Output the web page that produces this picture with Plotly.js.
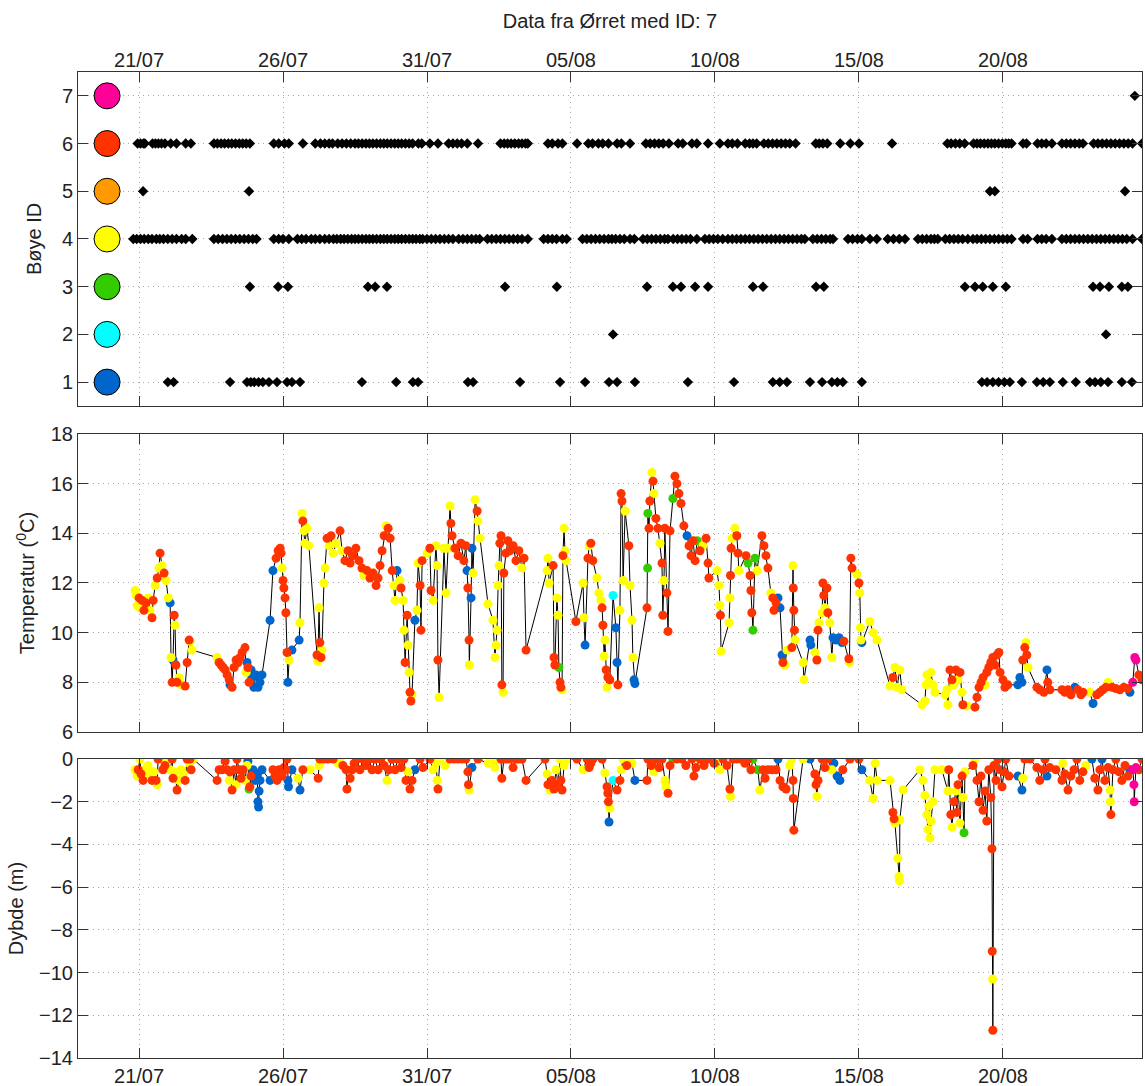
<!DOCTYPE html>
<html><head><meta charset="utf-8">
<script src="https://cdn.plot.ly/plotly-3.0.1.min.js"></script>
<style>body{margin:0;background:#fff}#chart{width:1145px;height:1086px}</style>
</head><body><div id="chart"></div>
<script>
// ---------- data (days after 21/07) ----------
const startDate = '2012-07-21';
const buoyIds = [1, 2, 3, 4, 5, 6, 7];

const det1 = [1.0,1.2,3.16,3.75,3.88,4.0,4.15,4.3,4.51,4.79,5.14,5.31,5.59,7.74,8.93,9.51,9.69,11.42,11.6,13.23,14.62,15.49,16.32,16.6,17.22,19.06,20.66,22.01,22.25,22.5,23.3,23.72,24.06,24.25,24.44,25.1,29.27,29.45,29.65,29.85,30.05,30.24,30.66,31.18,31.4,31.63,32.08,32.53,33.02,33.2,33.4,33.65,34.13,34.48];
const det2 = [16.46,33.58];
const det3 = [3.85,4.83,5.17,7.95,8.2,8.61,12.71,14.51,17.64,18.54,18.82,19.31,19.76,21.32,21.67,23.51,23.78,28.68,29.03,29.3,29.65,30.1,33.13,33.37,33.68,34.13,34.34];
const det4 = [-0.2,-0.08,0.05,0.18,0.32,0.45,0.6,0.72,0.85,1.0,1.15,1.3,1.48,1.62,1.85,
  2.6,2.75,2.9,3.05,3.2,3.35,3.5,3.65,3.8,3.95,4.08,4.68,4.85,5.0,5.2,5.5,5.65,5.8,5.98,
  6.12,6.28,6.45,6.6,6.75,6.87,7.0,7.12,7.25,7.38,7.5,7.62,7.75,7.88,8.0,8.12,8.25,8.38,8.5,8.62,8.75,8.88,9.0,9.12,9.25,9.38,9.5,9.62,9.75,9.85,
  10.0,10.15,10.3,10.45,10.6,10.75,10.9,11.1,11.25,11.4,11.55,11.7,11.83,12.1,12.25,12.4,12.55,12.7,12.85,13.0,13.15,13.3,13.5,
  14.05,14.2,14.35,14.5,14.7,14.85,15.4,15.55,15.7,15.85,16.0,16.15,16.3,16.42,16.55,16.7,16.85,17.05,17.2,
  17.5,17.65,17.8,17.95,18.1,18.25,18.37,18.55,18.7,18.85,19.0,19.15,19.37,19.65,19.8,19.95,20.1,20.27,
  20.45,20.6,20.75,20.9,21.05,21.2,21.35,21.5,21.65,21.8,21.95,22.1,22.25,22.4,22.55,22.7,22.85,23.0,23.12,
  23.4,23.55,23.7,23.85,24.0,24.1,24.62,24.78,24.95,25.1,25.38,25.62,26.0,26.2,26.4,26.6,
  27.05,27.2,27.35,27.5,27.62,27.74,28.0,28.15,28.3,28.45,28.6,28.78,28.96,29.1,29.25,29.4,29.55,29.7,29.85,30.0,30.15,30.3,
  30.7,30.86,31.2,31.35,31.5,31.7,32.05,32.2,32.35,32.5,32.65,32.8,32.95,33.1,33.25,33.4,33.55,33.7,33.85,34.0,34.15,34.3,34.5,34.83];
const det5 = [0.14,3.82,29.55,29.72,34.24];
const det6 = [-0.05,0.05,0.15,0.2,0.47,0.57,0.67,0.78,0.9,1.1,1.3,1.62,1.8,
  2.6,2.72,2.85,2.97,3.1,3.22,3.35,3.48,3.6,3.72,3.85,4.68,4.85,5.05,5.2,5.69,
  6.12,6.3,6.45,6.6,6.72,6.9,7.05,7.2,7.35,7.5,7.62,7.75,7.88,8.0,8.12,8.25,8.38,8.5,8.62,8.75,8.88,9.0,9.12,9.25,9.38,9.5,
  9.7,9.82,10.1,10.38,10.75,10.9,11.05,11.2,11.4,11.77,12.55,12.68,12.8,12.92,13.05,13.18,13.3,13.42,13.5,
  14.2,14.35,14.55,14.7,15.21,15.6,15.75,15.95,16.1,16.3,16.6,16.75,17.05,17.6,17.75,17.9,18.05,18.2,18.4,
  18.72,18.88,19.2,19.37,19.76,20.17,20.45,20.6,20.78,21.05,21.2,21.32,21.45,
  21.7,21.85,22.0,22.15,22.3,22.45,22.6,22.8,23.5,23.62,23.75,23.9,24.35,24.7,25.0,26.15,
  28.07,28.2,28.35,28.5,28.67,28.98,29.1,29.22,29.35,29.48,29.6,29.72,29.85,29.98,30.1,30.2,30.3,
  30.7,30.82,31.2,31.35,31.5,31.7,32.05,32.2,32.35,32.5,32.65,32.78,33.15,33.3,33.45,33.6,33.75,33.9,34.05,34.2,34.35,34.5,34.83];
const det7 = [34.58];

const tempDays = [
  -0.14,-0.10,-0.07,0.00,0.03,0.10,0.17,0.24,0.31,0.38, 0.45,0.49,0.56,0.63,0.69,0.73,0.80,0.87,0.94,1.01, 1.08,1.11,1.15,1.18,1.22,1.25,1.28,1.32,1.39,1.46, 1.60,1.67,1.74,1.77,1.84,
  2.71,2.78,2.85,2.92,2.99,3.06,3.13,3.16,3.23,3.30, 3.37,3.44,3.51,3.58,3.68,3.72,3.75,3.78,3.82,3.89, 3.92,3.99,4.06,4.13,4.20,4.27,
  4.55,4.65,4.76,4.83,4.90,4.93,4.97,5.00,5.03,5.07, 5.10,5.14,5.17,5.21,5.31,5.56,5.59,5.66,5.69,5.73, 5.76,5.83,5.90,
  6.18,6.21,6.25,6.28,6.32,6.35,6.42,6.46,6.53,6.60, 6.67,6.74,6.84,6.98,7.05,7.15,7.26,7.33,7.43,7.53, 7.64,7.74,7.81,7.92,8.02,8.13,8.23,8.30,8.37,8.44, 8.51,8.58,8.65,8.72,8.79,8.85,8.89,8.96,
  9.06,9.10,9.17,9.20,9.24,9.31,9.34,9.38,9.41,9.44, 9.48,9.58,9.65,9.69,9.76,9.79,9.83,10.00,10.10,10.14, 10.21,10.31,10.35,10.38,10.42,10.59,10.66,10.73,10.80,10.83, 10.87,10.97,11.08,11.18,11.28,11.35,11.39,11.42,11.46,11.47, 11.53,11.56,11.60,11.67,11.74,11.77,11.84,
  12.12,12.29,12.36,12.40,12.43,12.47,12.50,12.53,12.57,12.60, 12.64,12.67,12.74,12.81,12.88,12.99,13.09,13.19,13.30,13.37, 13.44,14.17,14.20,14.24,14.38,14.41,14.44,14.51,14.55,14.58, 14.62,14.65,14.69,14.72,14.76,14.79,14.83,
  15.17,15.42,15.45,15.49,15.59,15.63,15.69,15.76,15.90,15.97, 16.04,16.08,16.11,16.15,16.18,16.22,16.25,16.28,16.35,16.46, 16.56,16.60,16.63,16.70,16.74,16.77,16.81,16.88,17.01,17.05, 17.12,17.15,17.19,17.22,
  17.64,17.66,17.67,17.71,17.74,17.81,17.85,17.88,17.95,18.02, 18.09,18.16,18.19,18.23,18.26,18.33,18.37,18.44,18.54,18.61, 18.68,18.75,18.82,18.92,19.03,19.10,19.17,19.24,19.31,19.38, 19.48,19.58,19.69,19.76,19.79,20.07,20.14,20.17,20.19,20.21,
  20.49,20.52,20.54,20.56,20.59,20.69,20.76,20.80,20.83,21.08, 21.15,21.22,21.25,21.28,21.32,21.39,21.46,21.63,21.70,21.77, 21.84,21.94,22.01,22.05,22.12,22.19,22.26,22.33,22.36,22.43, 22.50,22.67,22.71,22.72,22.74,22.76,22.78,23.06,23.09,
  23.30,23.33,23.47,23.54,23.58,23.61,23.72,23.75,23.78,23.82, 23.89,23.92,23.99,24.06,24.10,24.20,24.31,24.41,24.48,24.65, 24.67,24.72,24.76,24.93,25.00,25.03,25.05,25.07,25.10,25.38, 25.49,25.63,
  26.08,26.18,26.25,26.32,26.42,26.49,27.19,27.29,27.33,27.36, 27.43,27.50,27.57,27.64,27.99,28.06,28.09,28.16,28.23,28.30, 28.37,28.44,28.51,28.58,28.61,28.75,29.03,29.10,29.17,29.24, 29.31,29.38,29.44,29.51,29.58,29.65,29.72,29.79,29.86,
  29.90,30.00,30.07,30.17,30.52,30.59,30.66,30.69,30.76,30.80, 30.83,30.87,31.18,31.28,31.42,31.53,31.56,31.63,32.05,32.15, 32.26,32.36,32.50,32.60,32.71,32.78,33.02,33.13,33.26,33.37, 33.47,33.58,33.65,33.79,33.92,34.06,34.20,34.34,34.41,34.51, 34.58,34.62,34.72,34.83];
const tempValues = [
  11.7,11.5,11.1,11.4,11.0,11.3,10.9,11.2,11.4,10.9, 10.6,11.3,11.9,12.2,12.6,13.2,12.7,12.4,12.1,11.4, 11.2,9.0,8.0,8.9,10.7,10.3,8.7,8.0,8.2,7.9, 7.85,8.8,9.7,9.65,9.3,
  9.0,8.8,8.7,8.6,8.5,8.3,8.1,7.9,7.8,8.6, 8.9,8.8,9.0,9.2,9.4,8.4,8.8,8.6,8.0,8.5, 8.2,7.8,8.3,7.8,8.0,8.3,
  10.5,12.5,13.0,13.3,13.4,13.2,12.6,12.1,11.8,11.4, 10.8,9.2,8.0,8.9,9.3,9.7,10.4,14.8,14.5,14.1, 13.6,14.2,13.5,
  9.1,8.85,11.0,9.6,9.0,9.3,12.0,12.6,13.8,13.5, 13.9,13.2,13.6,14.1,13.3,12.9,13.3,12.8,13.1,13.4, 12.9,12.6,12.3,12.5,12.2,12.4,11.9,12.2,12.7,13.3, 13.9,14.3,14.2,13.8,12.5,11.9,11.3,12.5,
  12.1,11.8,11.3,10.1,8.8,10.7,9.5,8.4,7.6,7.25, 7.5,10.5,10.9,12.8,11.9,10.1,12.9,13.2,13.4,11.7, 11.3,13.5,12.7,8.9,7.4,13.4,11.6,13.4,15.1,14.4, 13.9,13.4,13.1,13.6,12.9,13.5,12.5,11.8,9.7,8.7, 11.4,13.4,12.4,15.35,14.9,14.5,13.8,
  11.15,10.5,9.0,9.5,10.1,11.9,12.7,13.6,13.9,7.9, 7.6,12.4,13.2,13.7,13.3,13.5,12.9,13.3,12.6,13.0, 9.3,12.5,13.0,12.0,12.7,9.0,8.7,11.4,10.7,8.6, 8.0,7.8,7.7,13.1,14.2,13.3,12.9,
  10.45,12.0,10.6,9.5,13.0,13.5,13.6,12.9,12.2,11.6, 11.3,11.0,10.3,9.05,9.7,8.5,7.8,8.2,8.1,11.5, 10.2,8.8,7.9,10.9,15.6,15.3,12.1,14.9,13.5,11.9, 10.5,9.0,8.1,7.95,
  11.0,12.6,14.8,14.2,15.3,16.45,16.1,15.6,14.6,14.2, 13.6,12.8,10.7,12.1,14.2,11.6,10.05,14.1,15.4,16.3, 16.0,15.6,15.2,14.3,13.9,13.5,13.1,13.7,12.9,13.7, 13.3,13.5,13.8,12.8,12.2,12.5,11.9,11.1,10.7,9.25,
  10.4,11.4,12.3,13.4,13.8,14.2,13.9,13.2,12.5,13.1, 12.8,12.3,11.7,10.8,10.1,13.0,12.5,13.9,13.5,13.1, 12.6,11.6,11.4,10.9,11.2,11.4,11.0,9.1,8.8,8.7, 9.3,9.4,12.7,11.8,10.9,10.1,9.7,8.8,8.1,
  9.7,9.5,9.2,8.9,10.1,10.4,10.8,12.0,11.5,11.0, 11.8,10.8,10.4,9.0,9.8,9.7,9.8,9.6,9.65,8.95, 8.8,13.0,12.6,12.35,12.0,11.6,10.2,9.7,9.6,10.45, 10.0,9.7,
  7.85,8.2,8.6,7.8,8.5,7.7,7.1,7.25,7.9,8.3, 8.0,8.4,7.9,7.6,7.5,7.7,7.1,8.5,8.1,7.9, 8.5,8.1,8.4,7.6,7.1,7.05,7.0,7.4,7.8,8.0, 8.2,7.9,8.4,8.6,8.8,9.0,8.7,9.1,9.2,
  8.4,8.1,7.8,7.9,7.9,8.2,8.0,8.9,9.4,9.6, 9.1,8.6,7.8,7.7,7.6,8.5,8.0,7.7,7.7,7.6, 7.7,7.5,7.8,7.7,7.5,7.6,7.6,7.15,7.5,7.6, 7.7,7.8,8.0,7.8,7.75,7.7,7.8,7.75,7.6,8.0, 9.0,8.9,8.3,8.1];
const tempBuoys = [
  4,4,4,6,4,6,6,6,4,4, 6,6,4,6,4,6,4,6,4,4, 1,4,6,1,6,4,6,6,4,4, 6,6,6,4,4,
  4,6,6,6,6,6,6,1,6,6, 6,6,6,6,6,4,1,6,6,1, 1,1,1,1,1,1,
  1,1,6,6,6,6,4,6,6,6, 6,6,1,4,1,1,4,4,6,4, 4,4,4,
  6,4,4,6,6,4,4,4,6,4, 6,4,4,6,4,6,6,6,6,6, 6,6,4,6,6,6,6,6,6,6, 6,4,6,6,6,4,4,1,
  4,6,4,4,6,6,4,4,6,6, 4,1,4,4,6,6,6,4,6,6, 4,4,4,6,4,4,4,4,4,6, 6,6,6,6,6,6,1,6,6,4, 1,1,4,4,6,4,4,
  4,4,4,4,4,4,4,6,6,6, 4,6,6,6,6,6,6,6,4,6, 6,4,4,4,6,6,6,4,4,3, 6,6,4,6,4,4,4,
  6,4,4,1,6,4,6,6,4,4, 4,6,6,4,4,6,4,6,6,2, 1,1,6,4,6,6,4,4,6,4, 4,4,1,1,
  6,3,3,6,6,4,6,4,6,6, 4,6,6,4,6,6,6,6,3,6, 6,6,6,6,1,6,6,6,6,3, 6,4,6,6,6,4,4,4,6,4,
  4,4,6,6,4,4,6,6,4,6, 3,6,6,6,3,3,4,6,6,6, 6,4,6,6,6,1,1,1,6,4, 4,6,4,6,6,6,4,4,4,
  1,1,4,6,6,4,4,6,6,4, 6,6,4,4,1,1,1,1,6,6, 4,6,6,4,6,4,4,4,1,4, 4,4,
  4,6,4,4,4,4,4,4,4,4, 4,4,4,4,4,4,4,6,6,4, 6,4,6,4,6,4,6,6,6,6, 6,4,6,6,6,6,6,6,6,
  6,6,6,6,1,1,1,6,6,4, 6,4,6,6,6,1,6,6,6,6, 6,6,1,6,6,6,4,1,6,6, 6,6,4,6,6,6,6,6,1,7, 7,7,6,6];

const depthDays = [
  -0.14,-0.07,-0.03,0.03,0.07,0.14,0.21,0.31,0.38,0.45, 0.52,0.59,0.63,0.66,0.76,0.83,0.90,0.97,1.08,1.15, 1.18,1.25,1.32,1.39,1.46,1.53,1.60,1.67,1.74,1.77, 1.81,1.88,
  2.71,2.78,2.88,2.99,3.06,3.13,3.16,3.23,3.30,3.37, 3.40,3.47,3.54,3.61,3.68,3.75,3.78,3.82,3.85,3.89, 3.96,4.03,4.10,4.13,4.15,4.17,4.20,4.27,
  4.55,4.65,4.72,4.79,4.86,4.97,5.03,5.10,5.14,5.17, 5.19,5.31,5.52,5.59,5.69,5.94,
  6.22,6.25,6.28,6.42,6.56,6.74,6.91,6.98,7.08,7.19, 7.22,7.29,7.33,7.40,7.47,7.57,7.67,7.78,7.88,7.99, 8.09,8.19,8.30,8.40,8.51,8.61,8.68,8.78,8.89,8.99,
  9.10,9.20,9.27,9.34,9.41,9.48,9.58,9.76,9.86,10.10, 10.21,10.31,10.35,10.38,10.45,10.63,10.80,10.94,11.08,11.22, 11.35,11.42,11.44,11.46,11.56,11.77,
  12.12,12.26,12.36,12.47,12.57,12.60,12.67,12.78,12.88,12.99, 13.09,13.19,13.30,13.44,14.10,14.17,14.20,14.27,14.34,14.41, 14.48,14.55,14.62,14.65,14.69,14.76,14.86,
  15.21,15.42,15.56,15.63,15.69,15.76,16.08,16.18,16.25,16.28, 16.30,16.32,16.35,16.46,16.60,16.70,16.74,16.81,16.94,17.05, 17.12,17.22,
  17.64,17.67,17.78,17.88,17.95,18.06,18.16,18.26,18.30,18.37, 18.44,18.54,18.68,18.85,18.99,19.20,19.27,19.34,19.48,19.62, 19.76,19.97,20.10,20.17,20.28,20.42,
  20.52,20.54,20.63,20.76,20.90,21.04,21.15,21.25,21.32,21.49, 21.56,21.67,21.74,21.84,21.98,22.12,22.19,22.26,22.36,22.47, 22.60,22.67,22.71,22.72,22.74,23.06,
  23.30,23.47,23.51,23.54,23.58,23.72,23.82,23.92,24.06,24.13, 24.24,24.34,24.44,24.69,25.00,25.10,25.38,25.49,25.56,25.63,
  26.08,26.18,26.22,26.25,26.35,26.39,26.41,26.42,26.53,27.12, 27.22,27.29,27.36,27.40,27.43,27.47,27.50,27.57,27.64,27.88, 28.09,28.12,28.19,28.23,28.30,28.37,28.40,28.44,28.51,28.58, 28.61,28.65,28.68,28.96,29.03,29.10,29.17,29.24,29.31,29.38, 29.44,29.51,29.58,29.62,29.63,29.64,29.65,29.69,29.76,29.83, 29.90,29.97,30.03,30.10,30.21,
  30.52,30.66,30.69,30.76,30.94,31.18,31.28,31.39,31.46,31.53, 31.63,31.84,32.05,32.08,32.15,32.26,32.36,32.47,32.57,32.67, 32.78,32.88,33.09,33.19,33.30,33.37,33.44,33.54,33.65,33.72, 33.73,33.75,33.82,33.92,34.03,34.13,34.24,34.34,34.41,34.51, 34.55,34.56,34.62,34.72,34.83];
const depthValues = [
  -0.5,-0.8,-0.5,0,-0.7,-1.0,-0.5,-0.3,-0.7,-1.0, -0.6,-1.0,-1.2,0,0,-0.5,-0.3,0,-0.5,0, -0.9,-0.6,-1.45,-1.0,-0.5,-0.7,-1.0,0,-0.2,0, -0.5,0,
  -1.0,-0.5,-0.5,-0.1,-0.5,-1.0,-0.6,-1.45,-0.5,-1.2, 0,-0.5,-0.9,-0.5,-1.0,-0.3,-0.1,-1.4,-1.3,-0.8, -0.5,-1.0,-0.7,-2.0,-2.25,-1.5,-1.0,-0.5,
  -1.0,-0.5,-0.8,-1.0,-0.5,-0.8,-0.4,-0.5,0,-1.0, -1.3,-0.5,-0.9,-1.45,-0.5,-0.5,
  -0.9,-0.3,0,0,0,0,-0.2,0,-0.3,-0.5, -1.4,-0.5,-0.9,-0.5,-0.2,0,-0.5,0,-0.3,0, -0.5,0,-0.5,0,-0.3,-1.0,-0.5,0,-0.5,0,
  -0.4,0,-1.0,-0.6,-1.4,-1.0,-0.5,0,-0.4,0, -0.5,-0.2,-1.0,-1.4,0,-0.3,0,0,0,0, 0,-0.6,-1.2,-1.45,-0.4,0,
  -0.2,0,-0.4,0,0,-0.9,0,0,0,-0.4, 0,0,0,-1.0,0,-0.7,-1.2,-1.45,-1.0,-1.4, -0.5,-1.2,0,-1.0,-1.45,-0.3,0,
  0,-0.5,0,-0.4,-0.2,0,0,-0.65,-1.3,-1.6, -2.0,-2.95,-2.3,-1.0,-1.45,-1.0,-0.5,0,-0.3,0, -0.2,-1.0,
  -1.0,0,-0.3,-0.6,0,-0.4,0,-1.0,-1.3,-1.6, -0.3,0,0,0,-0.3,0,-0.8,-0.4,0,-0.3, 0,-0.2,0,-0.5,0,-0.3,
  -1.4,-1.75,0,0,0,-0.2,0,-0.5,0,-0.5, -1.45,-0.5,-0.9,-0.5,-0.5,-0.5,0,-1.0,-1.3,-1.4, -0.3,0,-1.0,-1.85,-3.33,0,
  0,-0.7,-1.2,-1.75,-1.0,0,-0.4,0,-0.5,-0.2, -0.8,-1.0,-0.5,0,0,-0.5,-1.0,-1.85,-0.2,-1.0,
  -1.0,-2.5,-2.8,-3.0,-4.65,-5.5,-5.7,-2.85,-1.45,-0.5, -1.0,-1.7,-2.6,-3.3,-2.2,-3.7,-2.9,-2.0,-0.5,-0.5, -1.5,-0.5,-2.6,-3.2,-2.0,-1.5,-2.5,-1.2,-3.0,-0.8, -1.8,-3.45,-0.6,-0.3,0,-1.0,-2.0,-0.8,-2.4,-1.5, -2.9,-0.5,-1.8,-4.2,-9.0,-10.3,-12.7,-0.3,-1.0,0, -0.5,-1.3,-0.6,0,-0.8,
  -0.8,-1.45,-0.9,0,0,-0.4,-1.0,-0.5,0,-0.8, -0.4,-0.5,-1.0,-0.2,-0.7,-1.45,-0.8,-0.5,0,-1.0, -0.6,-0.3,0,-0.9,-1.45,-0.5,0,-1.0,-0.4,-1.45, -2.0,-2.6,-0.5,0,-0.6,-1.0,-0.3,-0.8,-0.5,-0.5, -1.2,-2.0,-0.4,-0.5,0];
const depthBuoys = [
  4,4,6,4,6,6,4,4,4,6, 4,6,4,6,4,6,6,4,4,6, 6,4,6,4,4,4,6,6,4,6, 6,4,
  6,6,6,6,6,4,6,6,6,4, 6,6,6,6,4,4,1,3,6,6, 1,1,1,1,1,1,1,1,
  1,6,6,6,6,6,6,6,6,1, 1,1,4,1,6,4,
  6,4,6,6,6,6,4,4,6,6, 6,4,6,6,6,6,6,6,6,6, 6,6,6,6,6,4,6,6,6,6,
  6,6,6,4,6,6,1,6,6,6, 4,4,4,6,4,4,6,6,6,6, 6,6,6,4,1,6,
  4,4,4,4,6,6,6,6,6,6, 6,6,6,6,6,4,6,4,6,6, 4,6,4,6,6,4,4,
  6,4,6,6,6,6,6,4,6,6, 6,1,4,2,6,6,4,4,6,4, 4,1,
  6,6,6,4,6,6,6,4,4,6, 6,3,6,6,6,6,6,6,6,6, 6,6,4,4,6,6,
  6,4,6,6,6,6,6,6,3,3, 4,6,6,6,6,6,1,6,6,6, 4,4,6,6,6,4,
  1,6,6,4,6,6,6,6,4,1, 1,1,6,6,6,1,4,4,4,4,
  4,6,6,4,4,4,4,4,4,4, 4,4,4,4,4,4,4,4,4,4, 4,6,6,4,6,4,6,6,4,6, 4,3,4,6,4,6,6,6,6,6, 6,6,6,6,6,4,6,6,6,6, 6,6,6,6,6,
  1,1,4,6,6,6,6,6,6,1, 6,6,6,4,6,6,6,6,6,6, 6,4,1,6,6,6,1,6,6,4, 4,6,6,6,6,6,6,6,1,7, 7,7,7,6,6];

// ---------- styles ----------
const buoyColors = {1:'#0066CC', 2:'#00FFFF', 3:'#33CC00', 4:'#FFFF00', 5:'#FF9900', 6:'#FF3300', 7:'#FF0099'};
const DAY = 86400000;
const base = Date.parse(startDate + 'T00:00:00Z');
const toX = d => new Date(base + d * DAY).toISOString().slice(0, 19).replace('T', ' ');
const legendDay = -1.11;
const xRange = [toX(-2.12), toX(34.83)];

const detections = {1: det1, 2: det2, 3: det3, 4: det4, 5: det5, 6: det6, 7: det7};
const traces = [];

// top panel: detections per buoy
buoyIds.forEach(id => {
  const arr = detections[id];
  traces.push({type:'scatter', mode:'markers', xaxis:'x3', yaxis:'y3',
    x: arr.map(toX), y: arr.map(() => id),
    marker:{symbol:'diamond', size:8, color:'#000'}, hoverinfo:'skip'});
});
traces.push({type:'scatter', mode:'markers', xaxis:'x3', yaxis:'y3',
  x: buoyIds.map(() => toX(legendDay)), y: buoyIds,
  marker:{size:26, color: buoyIds.map(id => buoyColors[id]), line:{color:'#000', width:1}}});

function seriesTraces(days, vals, buoys, xa, ya) {
  const n = Math.min(days.length, vals.length, buoys.length);
  const out = [];
  out.push({type:'scatter', mode:'lines', xaxis:xa, yaxis:ya,
    x: days.slice(0, n).map(toX), y: vals.slice(0, n),
    line:{color:'#000', width:1}});
  buoyIds.forEach(id => {
    const xs = [], ys = [];
    for (let i = 0; i < n; i++) if (buoys[i] === id) { xs.push(toX(days[i])); ys.push(vals[i]); }
    if (xs.length) out.push({type:'scatter', mode:'markers', xaxis:xa, yaxis:ya, x:xs, y:ys,
      marker:{size:9, color:buoyColors[id]}});
  });
  return out;
}
traces.push(...seriesTraces(tempDays, tempValues, tempBuoys, 'x2', 'y2'));
traces.push(...seriesTraces(depthDays, depthValues, depthBuoys, 'x', 'y'));

const fontFam = 'Liberation Sans, Arial, Helvetica, sans-serif';
const axisCommon = {
  showline:true, linecolor:'#333', linewidth:1, mirror:'ticks',
  ticks:'inside', ticklen:10, tickcolor:'#333', tickwidth:1,
  showgrid:true, gridcolor:'#a8a8a8', griddash:'1px,4px', gridwidth:1,
  zeroline:false, tickfont:{size:20, color:'#222', family:fontFam}
};
const xCommon = Object.assign({}, axisCommon, {
  type:'date', range:xRange, tick0:toX(0), dtick:5*DAY, tickformat:'%d/%m'
});

const layout = {
  width:1145, height:1086,
  margin:{l:78, r:3, t:72, b:28},
  paper_bgcolor:'#fff', plot_bgcolor:'#fff',
  showlegend:false,
  font:{family:fontFam, color:'#222', size:20},
  title:{text:'Data fra Ørret med ID: 7', font:{size:20, family:fontFam, color:'#222'},
    xref:'paper', x:0.5, xanchor:'center', yref:'container', y:0.981, yanchor:'middle'},
  xaxis: Object.assign({}, xCommon, {anchor:'y', domain:[0,1]}),
  xaxis2: Object.assign({}, xCommon, {anchor:'y2', domain:[0,1], showticklabels:false}),
  xaxis3: Object.assign({}, xCommon, {anchor:'y3', domain:[0,1], side:'top', ticklabelstandoff:-4}),
  yaxis: Object.assign({}, axisCommon, {anchor:'x', domain:[0,0.3032], range:[-14,0], dtick:2, tick0:0,
    title:{text:'Dybde (m)', font:{size:20, family:fontFam, color:'#222'}, standoff:10}}),
  yaxis2: Object.assign({}, axisCommon, {anchor:'x2', domain:[0.3306,0.6329], range:[6,18], dtick:2, tick0:0,
    title:{text:'Temperatur (<sup>0</sup>C)', font:{size:20, family:fontFam, color:'#222'}, standoff:10}}),
  yaxis3: Object.assign({}, axisCommon, {anchor:'x3', domain:[0.6613,1], range:[0.5,7.5], dtick:1, tick0:0,
    title:{text:'Bøye ID', font:{size:20, family:fontFam, color:'#222'}, standoff:14}})
};

Plotly.newPlot('chart', traces, layout, {staticPlot:true, displayModeBar:false});
</script>
</body></html>
